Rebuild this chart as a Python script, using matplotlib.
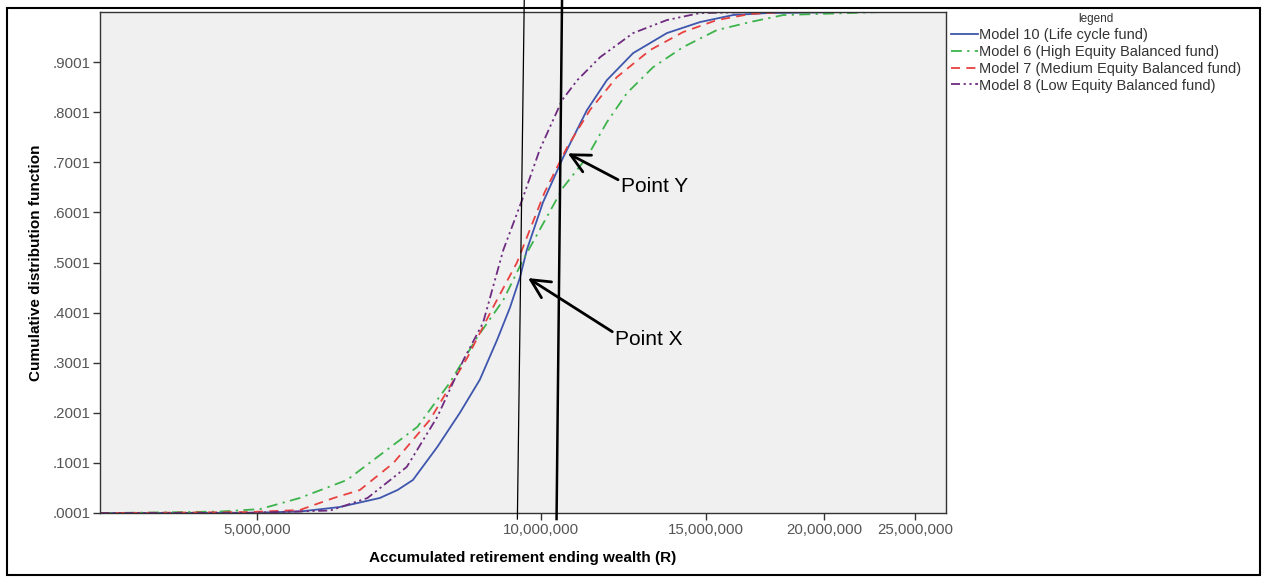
import matplotlib
matplotlib.use("Agg")
import matplotlib.pyplot as plt
from matplotlib.patches import Rectangle
from matplotlib.ticker import FixedLocator, FuncFormatter, NullLocator

# values: ending wealth (R) vs cumulative probability
m10_wealth = [3.41e6, 4.91e6, 5.55e6, 6.12e6, 6.75e6, 7.05e6, 7.32e6, 7.77e6, 8.21e6, 8.62e6,
              8.99e6, 9.28e6, 9.51e6, 9.67e6, 10.06e6, 10.57e6, 11.20e6, 11.76e6, 12.54e6,
              13.62e6, 14.77e6, 16.01e6, 17.40e6, 21.3e6, 26.95e6]
m10_cdf = [0.0, 0.0005, 0.003, 0.012, 0.03, 0.046, 0.066, 0.132, 0.2, 0.266,
           0.345, 0.41, 0.47, 0.525, 0.62, 0.71, 0.804, 0.864, 0.918,
           0.958, 0.98, 0.994, 0.998, 1.0, 1.0]

m6_wealth = [3.41e6, 3.85e6, 4.57e6, 5.04e6, 5.55e6, 6.23e6, 6.80e6, 7.40e6, 8.01e6, 8.56e6,
             9.13e6, 9.58e6, 10.57e6, 11.20e6, 11.76e6, 12.35e6, 13.17e6, 14.17e6, 15.39e6,
             16.69e6, 18.10e6, 22.94e6, 26.95e6]
m6_cdf = [0.0, 0.001, 0.003, 0.008, 0.03, 0.066, 0.12, 0.172, 0.26, 0.35,
          0.425, 0.505, 0.65, 0.71, 0.78, 0.838, 0.89, 0.93, 0.964,
          0.98, 0.994, 1.0, 1.0]

m7_wealth = [3.41e6, 3.85e6, 4.91e6, 5.55e6, 6.03e6, 6.43e6, 6.98e6, 7.63e6, 8.36e6, 8.90e6,
             9.44e6, 10.10e6, 10.67e6, 11.29e6, 12.05e6, 13.07e6, 14.17e6, 15.39e6, 16.69e6,
             18.10e6, 26.95e6]
m7_cdf = [0.0, 0.0005, 0.002, 0.006, 0.03, 0.046, 0.1, 0.186, 0.31, 0.41,
          0.5, 0.64, 0.73, 0.805, 0.87, 0.924, 0.96, 0.984, 0.996,
          1.0, 1.0]

m8_wealth = [3.41e6, 4.91e6, 5.98e6, 6.55e6, 7.21e6, 7.77e6, 8.28e6, 8.69e6, 9.13e6, 9.56e6,
             9.98e6, 10.54e6, 10.94e6, 11.57e6, 12.54e6, 13.62e6, 14.77e6, 17.10e6, 26.95e6]
m8_cdf = [0.0, 0.0005, 0.005, 0.03, 0.092, 0.192, 0.305, 0.38, 0.525, 0.625,
          0.725, 0.824, 0.864, 0.91, 0.958, 0.984, 0.998, 1.0, 1.0]

labels = ["Model 10 (Life cycle fund)", "Model 6 (High Equity Balanced fund)",
          "Model 7 (Medium Equity Balanced fund)", "Model 8 (Low Equity Balanced fund)"]
x_ticks = [5e6, 10e6, 15e6, 20e6, 25e6]
y_ticks = [0.0001, 0.1001, 0.2001, 0.3001, 0.4001, 0.5001, 0.6001, 0.7001, 0.8001, 0.9001]

# hand-drawn marker lines (x at top, x at bottom, width) and arrow points
ref_lines = [(9.61e6, 9.45e6, 0.9), (10.54e6, 10.40e6, 1.8)]
point_x = (9.70e6, 0.469)
point_x_text = (12.0e6, 0.347)
point_y = (10.69e6, 0.718)
point_y_text = (12.17e6, 0.651)

W, H = 1263, 578
plt.rcParams["font.family"] = ["Liberation Sans", "DejaVu Sans"]

fig = plt.figure(figsize=(W / 100, H / 100), dpi=100)
ax = fig.add_axes([100 / W, (H - 513) / H, (946 - 100) / W, (513 - 12) / H])
ax.set_facecolor("#f0f0f0")

ax.plot(m10_wealth, m10_cdf, color="#3e56ad", lw=1.3, label=labels[0])
ax.plot(m6_wealth, m6_cdf, color="#3cb44b", lw=1.3, ls=(0, (6, 3, 1.2, 3)), label=labels[1])
ax.plot(m7_wealth, m7_cdf, color="#e8413f", lw=1.3, ls=(0, (5, 3.5)), label=labels[2])
ax.plot(m8_wealth, m8_cdf, color="#6e2b80", lw=1.3, ls=(0, (5, 2, 1.2, 2, 1.2, 2)), label=labels[3])

ax.set_xscale("log")
ax.set_xlim(3.406e6, 26.95e6)
ax.set_ylim(0.0001, 1.0001)
ax.xaxis.set_major_locator(FixedLocator(x_ticks))
ax.xaxis.set_minor_locator(NullLocator())
ax.xaxis.set_major_formatter(FuncFormatter(lambda v, p: f"{v:,.0f}"))
ax.yaxis.set_major_locator(FixedLocator(y_ticks))
ax.yaxis.set_major_formatter(FuncFormatter(lambda v, p: f"{v:.4f}".lstrip("0")))
ax.tick_params(direction="out", length=5, width=1, colors="#333333", labelsize=10.8,
               labelcolor="#555555", pad=2)
for s in ax.spines.values():
    s.set_color("#333333")
    s.set_linewidth(1)

ax.set_xlabel("Accumulated retirement ending wealth (R)", fontsize=11, fontweight="bold",
              family=["Liberation Sans Narrow", "Liberation Sans"], labelpad=10)
ax.set_ylabel("Cumulative distribution function", fontsize=11, fontweight="bold",
              family=["Liberation Sans Narrow", "Liberation Sans"], labelpad=7)

for xt, xb, lw in ref_lines:
    ax.plot([xt, xb], [1.024, -0.012], color="black", lw=lw, clip_on=False, zorder=5)

arrow = dict(arrowstyle="->,head_length=0.9,head_width=0.45", color="black", lw=2,
             shrinkA=0, shrinkB=0, relpos=(0.0, 0.8))
ax.annotate("Point X", xy=point_x, xytext=point_x_text, fontsize=15, ha="left", va="center",
            arrowprops=arrow, zorder=6)
ax.annotate("Point Y", xy=point_y, xytext=point_y_text, fontsize=15, ha="left", va="center",
            arrowprops=arrow, zorder=6)

handles, labs = ax.get_legend_handles_labels()
leg = fig.legend(handles, labs, loc="upper left", bbox_to_anchor=(948 / W, 1 - 10 / H),
                 frameon=False, fontsize=10.5, title="legend", title_fontsize=8.5,
                 handlelength=1.85, handletextpad=0.1, labelspacing=0.2, borderaxespad=0,
                 borderpad=0.2)
for t in leg.get_texts():
    t.set_color("#333333")
leg.get_title().set_color("#333333")

fig.add_artist(Rectangle((7 / W, 3 / H), (1260 - 7) / W, (575 - 8) / H, transform=fig.transFigure,
                         fill=False, edgecolor="black", lw=1.5))

fig.savefig("out.png", dpi=100)
